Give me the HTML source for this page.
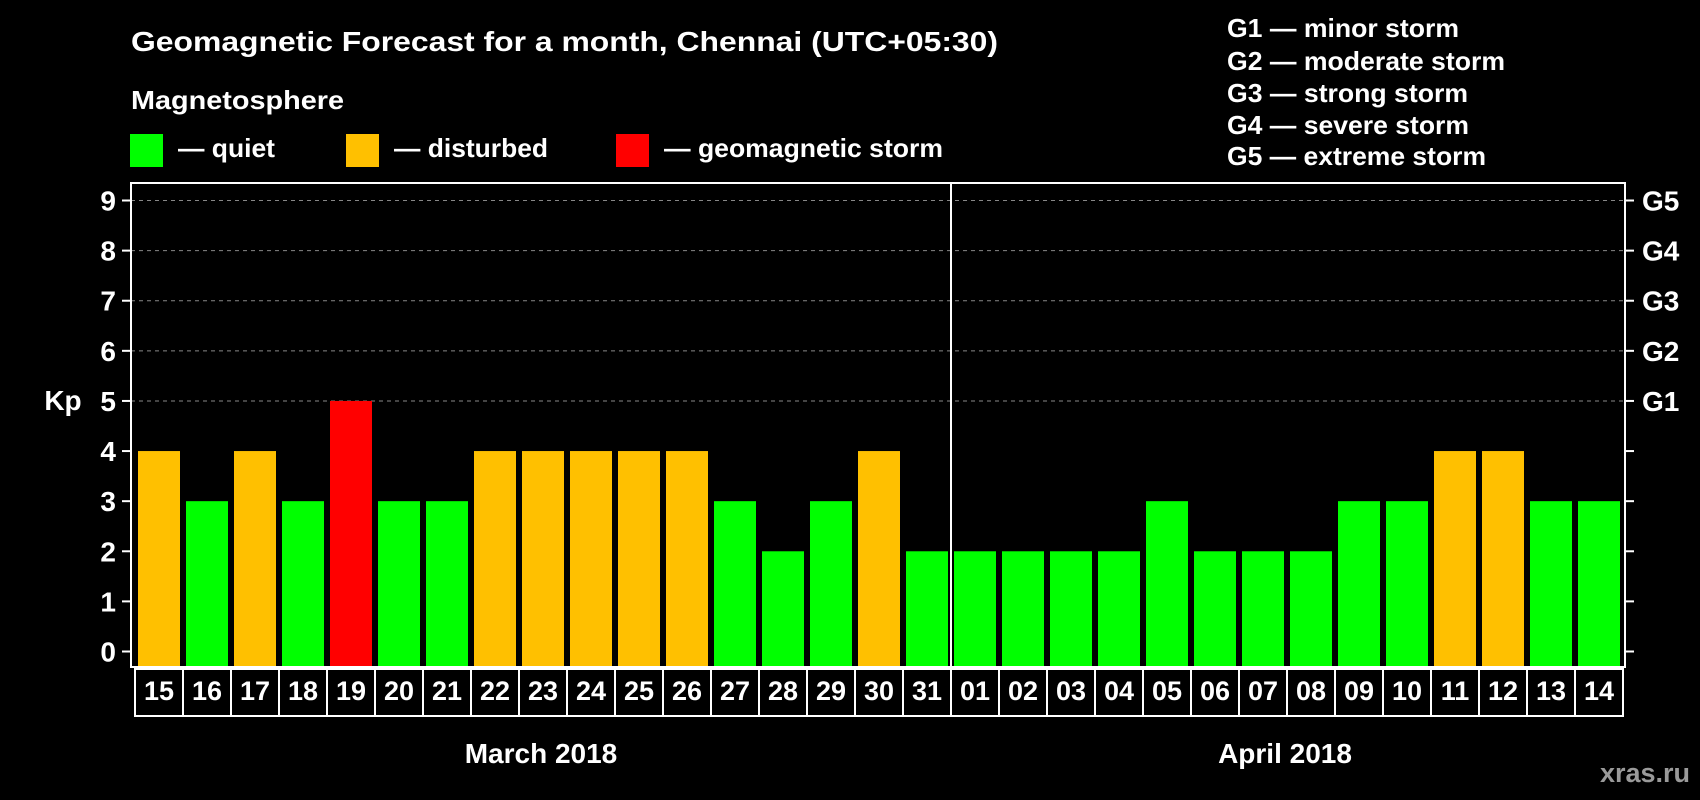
<!DOCTYPE html>
<html><head><meta charset="utf-8"><style>
html,body{margin:0;padding:0;background:#000;}
svg{display:block;font-family:"Liberation Sans",Arial,sans-serif;font-weight:bold;}
</style></head><body>
<svg id="chart" width="1700" height="800" viewBox="0 0 1700 800" xmlns="http://www.w3.org/2000/svg">
<rect width="1700" height="800" fill="#000"/>
<text x="131" y="51" fill="#fff" font-size="28" textLength="867" lengthAdjust="spacingAndGlyphs">Geomagnetic Forecast for a month, Chennai (UTC+05:30)</text>
<text x="131" y="109" fill="#fff" font-size="26" textLength="213" lengthAdjust="spacingAndGlyphs">Magnetosphere</text>
<rect x="130" y="134" width="33" height="33" fill="#00ff00"/>
<text x="178" y="157" fill="#fff" font-size="26" textLength="97" lengthAdjust="spacingAndGlyphs">— quiet</text>
<rect x="346" y="134" width="33" height="33" fill="#ffc000"/>
<text x="394" y="157" fill="#fff" font-size="26" textLength="154" lengthAdjust="spacingAndGlyphs">— disturbed</text>
<rect x="616" y="134" width="33" height="33" fill="#ff0000"/>
<text x="664" y="157" fill="#fff" font-size="26" textLength="279" lengthAdjust="spacingAndGlyphs">— geomagnetic storm</text>
<g fill="#fff" font-size="26">
<text x="1227" y="37" textLength="232" lengthAdjust="spacingAndGlyphs">G1 — minor storm</text>
<text x="1227" y="70" textLength="278" lengthAdjust="spacingAndGlyphs">G2 — moderate storm</text>
<text x="1227" y="102" textLength="241" lengthAdjust="spacingAndGlyphs">G3 — strong storm</text>
<text x="1227" y="134" textLength="242" lengthAdjust="spacingAndGlyphs">G4 — severe storm</text>
<text x="1227" y="165" textLength="259" lengthAdjust="spacingAndGlyphs">G5 — extreme storm</text>
</g>
<g id="grid"></g><g id="bars"></g><g id="axes"></g>
<text x="63" y="410" fill="#fff" font-size="28" text-anchor="middle">Kp</text>
<text x="541" y="763" fill="#fff" font-size="28" text-anchor="middle">March 2018</text>
<text x="1285" y="763" fill="#fff" font-size="28" text-anchor="middle">April 2018</text>
<text x="1690" y="782" fill="#9a9a9a" font-size="27" text-anchor="end">xras.ru</text>
</svg>
<script>
const days = ["15","16","17","18","19","20","21","22","23","24","25","26","27","28","29","30","31","01","02","03","04","05","06","07","08","09","10","11","12","13","14"];
const kpValues = [4,3,4,3,5,3,3,4,4,4,4,4,3,2,3,4,2,2,2,2,2,3,2,2,2,3,3,4,4,3,3];
const yTicks = [0,1,2,3,4,5,6,7,8,9];
const gLabels = ["","","","","","G1","G2","G3","G4","G5"];
const monthSplit = 17;
const NS="http://www.w3.org/2000/svg";
const L=131,R=1625,T=183,B=667,slotStart=132,slot=48;
const y=v=>651.5-v*(651.5-200.5)/9;
const x=i=>slotStart+i*slot;
function mk(tag,attrs,parent){const e=document.createElementNS(NS,tag);for(const k in attrs)e.setAttribute(k,attrs[k]);parent.appendChild(e);return e;}
const grid=document.getElementById('grid'),bars=document.getElementById('bars'),axes=document.getElementById('axes');
yTicks.forEach((v,i)=>{
  if(v>=5){const g=mk('line',{x1:L,x2:R,y1:y(v),y2:y(v),stroke:'#888','stroke-dasharray':'4,4','stroke-width':1},grid);
  
  }
  const t=mk('line',{x1:L-9,x2:L,y1:y(v),y2:y(v),stroke:'#fff','stroke-width':2},axes);
  
  
  const t2=mk('line',{x1:R,x2:R+9,y1:y(v),y2:y(v),stroke:'#fff','stroke-width':2},axes);
  
  
  const lb=mk('text',{x:116,y:y(v)+10,fill:'#fff','font-size':28,'text-anchor':'end'},axes);
  lb.textContent=v;
  
  
  if(gLabels[i]){const gl=mk('text',{x:1642,y:y(v)+10,fill:'#fff','font-size':28},axes);
  gl.textContent=gLabels[i];
  
  }
});
kpValues.forEach((v,i)=>{
  const c=v>=5?'#ff0000':(v>=4?'#ffc000':'#00ff00');
  const b=mk('rect',{x:x(i)+6,y:y(v),width:42,height:B-y(v),fill:c},bars);
  
  
  const cell=mk('rect',{x:x(i)+3,y:669,width:48,height:47,fill:'none',stroke:'#fff','stroke-width':2},axes);
  
  
  const t=mk('text',{x:x(i)+27,y:700,fill:'#fff','font-size':27,'text-anchor':'middle'},axes);
  t.textContent=days[i];
  
  
});
const f=mk('rect',{x:L,y:T,width:R-L,height:B-T,fill:'none',stroke:'#fff','stroke-width':2},axes);


const d=mk('line',{x1:x(monthSplit)+3,x2:x(monthSplit)+3,y1:T,y2:B,stroke:'#fff','stroke-width':2},axes);


</script>
</body></html>
